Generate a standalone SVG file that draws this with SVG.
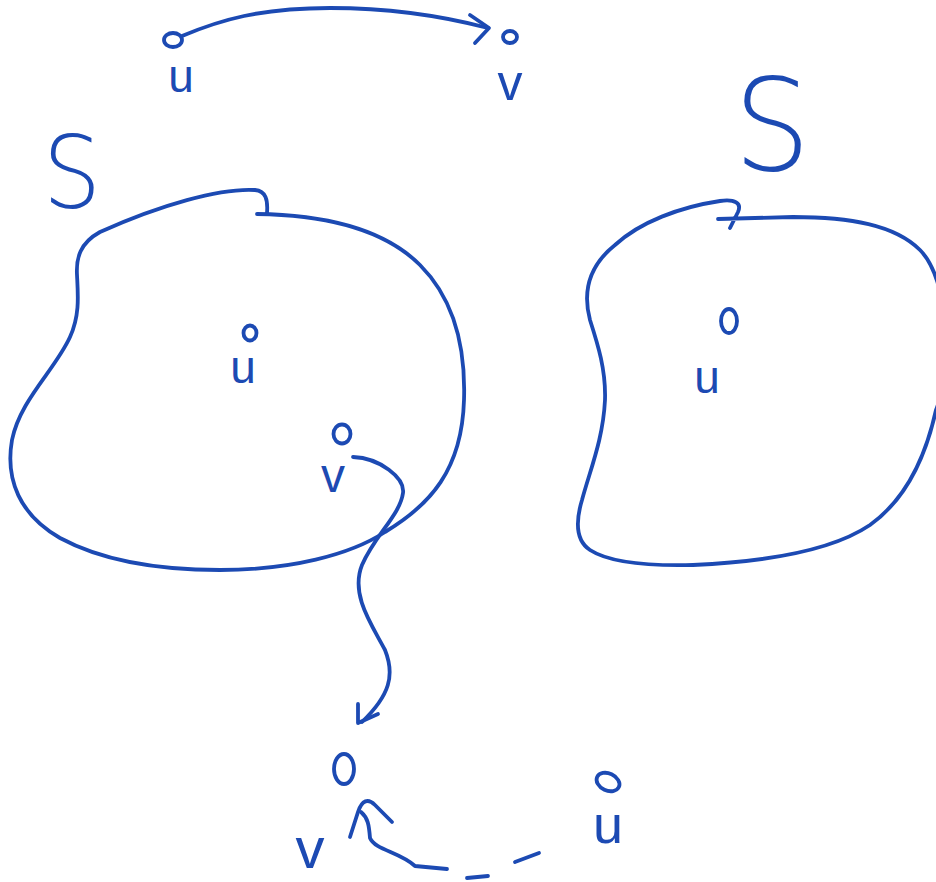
<svg xmlns="http://www.w3.org/2000/svg" width="936" height="882" viewBox="0 0 936 882">
<style>
.ink{fill:none;stroke:#1c4ab3;stroke-width:3.8;stroke-linecap:round;stroke-linejoin:round}
.lbl{font-family:"Liberation Sans","DejaVu Sans",sans-serif;fill:#1c4ab3;text-anchor:middle}
.big{font-family:"DejaVu Sans","Liberation Sans",sans-serif;font-weight:200;fill:#1c4ab3;text-anchor:middle}
</style>
<rect width="936" height="882" fill="#ffffff"/>
<g id="set-left">
<path class="ink" d="M267,213 C268,200 266,191 255,190 C220,188 160,205 100,232 C80,243 76,258 77,275 C78,295 80,315 70,337 C55,370 20,400 12,440 C5,480 20,515 60,538 C110,565 170,570 220,570 C290,570 350,555 385,532 C430,505 462,470 464,400 C466,340 450,295 420,265 C385,230 330,215 257,214"/>
<text class="big" x="72" y="208" font-size="100" transform="translate(72 0) scale(0.92 1) translate(-72 0)">S</text>
</g>
<g id="set-right">
<path class="ink" d="M718,219 L793,217 C850,217 895,225 920,250 C950,280 952,370 936,410 C925,460 905,500 870,525 C830,552 760,562 693,565 C650,566 610,563 590,550 C575,540 576,520 582,500 C590,470 603,440 605,400 C606,370 598,345 590,320 C582,290 590,265 615,245 C640,222 680,207 720,201 C735,199 742,203 738,212 L730,228"/>
<text class="big" x="772" y="170" font-size="128" transform="translate(772 0) scale(0.95 1) translate(-772 0)">S</text>
</g>
<g id="node-u-top"><ellipse class="ink" cx="173" cy="40" rx="9" ry="7"/><text class="lbl" x="181" y="92" font-size="46">u</text></g>
<g id="node-v-top"><ellipse class="ink" cx="510" cy="37" rx="7" ry="6"/><text class="lbl" x="510" y="100" font-size="50">v</text></g>
<g id="node-u-left"><ellipse class="ink" cx="250" cy="333" rx="6.5" ry="7.5"/><text class="lbl" x="243" y="383" font-size="46">u</text></g>
<g id="node-v-left"><ellipse class="ink" cx="342" cy="434" rx="8.5" ry="9.5"/><text class="lbl" x="333" y="492" font-size="48">v</text></g>
<g id="node-u-right"><ellipse class="ink" cx="729" cy="321" rx="8" ry="12"/><text class="lbl" x="707" y="393" font-size="46">u</text></g>
<g id="node-v-bottom"><ellipse class="ink" cx="344" cy="769" rx="10" ry="15"/><text class="lbl" x="310" y="868" font-size="58">v</text></g>
<g id="node-u-bottom"><ellipse class="ink" cx="608" cy="782" rx="12" ry="8.5" transform="rotate(25 608 782)"/><text class="lbl" x="608" y="843" font-size="54">u</text></g>
<g id="connectors">
<path class="ink" d="M182,36 C220,20 260,8 330,8 C400,8 450,18 488,28"/>
<path class="ink" d="M470,15 L489,28 L475,43"/>
<path class="ink" d="M353,457 C380,458 405,478 403,493 C400,515 375,535 362,565 C350,595 372,625 385,650 C395,675 390,695 362,722"/>
<path class="ink" d="M358,704 L358,723 L378,714"/>
<path class="ink" d="M361,812 C368,818 369,825 370,838 C375,850 400,852 415,866 L447,869"/>
<path class="ink" d="M350,837 L358,812 C362,800 368,798 375,805 L392,822"/>
<path class="ink" d="M467,878 L488,876"/>
<path class="ink" d="M515,862 L539,853"/>
</g>
</svg>
